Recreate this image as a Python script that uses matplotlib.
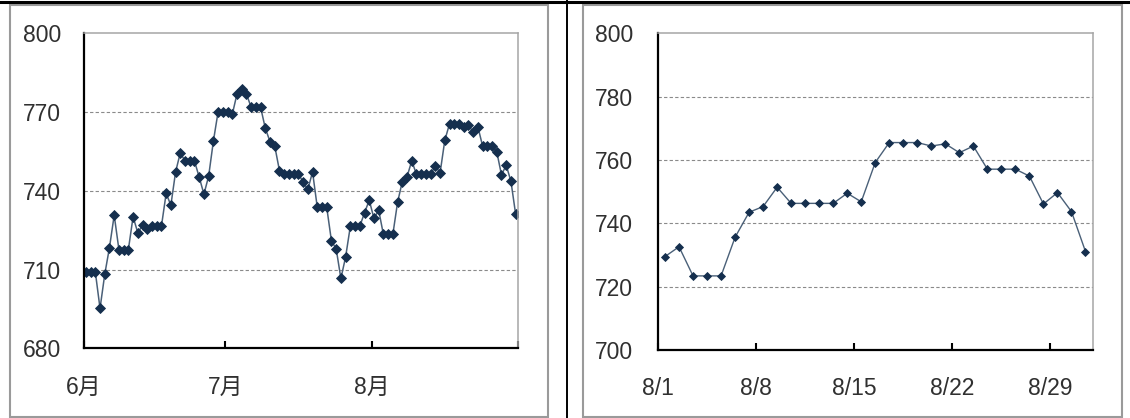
import numpy as np
import matplotlib
matplotlib.use('Agg')
import matplotlib.pyplot as plt
from matplotlib.patches import Rectangle
from matplotlib.lines import Line2D

plt.rcParams['font.family'] = ['Liberation Sans', 'Noto Sans CJK JP']

# 日次の値
june = [709.1, 709.1, 709.1, 695.2, 708.2, 718.4, 730.7, 717.6, 717.6, 717.6,
        730.1, 724.0, 726.9, 725.6, 726.5, 726.5, 726.5, 739.0, 734.5, 747.2,
        754.5, 751.3, 751.3, 751.3, 745.2, 738.7, 745.6, 758.9, 770.1, 770.1]
july = [770.1, 769.1, 776.9, 778.6, 776.9, 771.8, 771.8, 771.8, 763.8, 758.7,
        757.0, 747.6, 746.4, 746.4, 746.4, 746.4, 743.4, 740.5, 747.2, 733.7,
        733.7, 733.7, 720.9, 717.9, 706.6, 714.8, 726.5, 726.5, 726.5, 731.6,
        736.4]
august = [729.5, 732.6, 723.4, 723.4, 723.4, 735.6, 743.5, 745.3, 751.4, 746.3,
          746.3, 746.3, 746.3, 749.5, 746.8, 759.2, 765.5, 765.5, 765.5, 764.4,
          765.1, 762.3, 764.4, 757.1, 757.1, 757.1, 754.9, 746.1, 749.7, 743.7,
          731.1]

month_labels = ['6月', '7月', '8月', '']
month_lengths = [30, 31, 31]
aug_tick_days = [1, 8, 15, 22, 29]
aug_tick_labels = ['8/1', '8/8', '8/15', '8/22', '8/29']

left_yticks = [680, 710, 740, 770, 800]
right_yticks = [700, 720, 740, 760, 780, 800]

W, H = 1130, 418
fig = plt.figure(figsize=(W / 100, H / 100), dpi=100)
fig.patch.set_facecolor('white')

LINE_C = '#4a6078'
MARK_C = '#152f4e'
TXT_C = '#303030'


def px_axes(x0, y0, x1, y1):
    return fig.add_axes([x0 / W, 1 - y1 / H, (x1 - x0) / W, (y1 - y0) / H])


def style(ax, yticks, ypad):
    ax.set_ylim(yticks[0], yticks[-1])
    ax.set_yticks(yticks)
    ax.tick_params(axis='y', length=0, pad=ypad, labelsize=16.5, labelcolor=TXT_C)
    ax.tick_params(axis='x', direction='in', length=5, width=1.5, pad=19.5,
                   labelsize=16.5, labelcolor=TXT_C)
    for s in ['left', 'bottom']:
        ax.spines[s].set_linewidth(1.6)
        ax.spines[s].set_color('black')
    for s in ['top', 'right']:
        ax.spines[s].set_linewidth(1.1)
        ax.spines[s].set_color('#a6a6a6')
    for v in yticks[1:-1]:
        ax.axhline(v, color='#8a8a8a', lw=0.8, ls=(0, (3, 2)), zorder=0)


# 左：6月〜8月
values = june + july + august
ax1 = px_axes(83.5, 33.3, 518, 348.3)
ax1.plot(np.arange(len(values)) + 0.5, values, color=LINE_C, lw=1.1,
         marker='D', ms=4.8, mfc=MARK_C, mec=MARK_C, mew=0.6)
ax1.set_xlim(0, sum(month_lengths))
ax1.set_xticks(np.cumsum([0] + month_lengths))
ax1.set_xticklabels(month_labels)
style(ax1, left_yticks, 16)

# 右：8月
ax2 = px_axes(658, 33.3, 1092.5, 350)
ax2.plot(np.arange(len(august)) + 0.5, august, color=LINE_C, lw=1.0,
         marker='D', ms=4.4, mfc=MARK_C, mec=MARK_C, mew=0.6)
ax2.set_xlim(0, len(august))
ax2.set_xticks([d - 1 for d in aug_tick_days])
ax2.set_xticklabels(aug_tick_labels)
style(ax2, right_yticks, 18)

# 枠線
for x0, x1 in [(9.5, 547.5), (583, 1122)]:
    fig.add_artist(Rectangle((x0 / W, 1 - 417 / H), (x1 - x0) / W, (417 - 5) / H,
                             transform=fig.transFigure, fill=False,
                             ec='#9a9a9a', lw=1.5))
fig.add_artist(Line2D([0, 1], [1 - 1.5 / H] * 2, transform=fig.transFigure,
                      color='black', lw=2.2))
fig.add_artist(Line2D([567 / W] * 2, [0, 1], transform=fig.transFigure,
                      color='black', lw=1.4))

fig.savefig('out.png', dpi=100)
